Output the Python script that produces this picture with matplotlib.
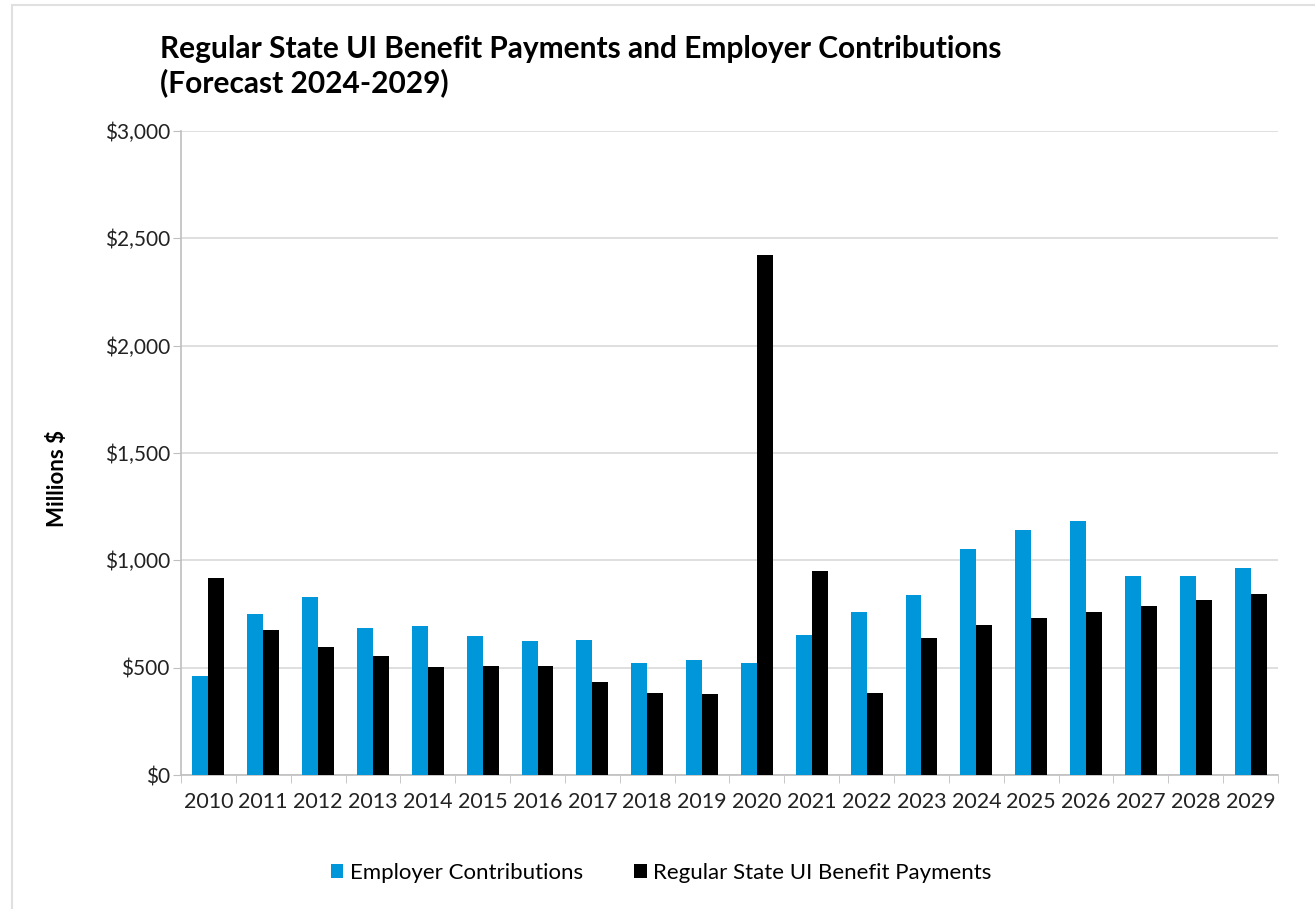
import matplotlib.pyplot as plt
import matplotlib.patches as patches
import numpy as np
from matplotlib.ticker import FuncFormatter, MultipleLocator

plt.rcParams['font.family'] = ['Lato', 'DejaVu Sans']

# data (millions $)
years = [str(y) for y in range(2010, 2030)]
employer = [460, 750, 830, 687, 694, 648, 625, 631, 523, 535,
            520, 650, 761, 839, 1054, 1139, 1182, 927, 927, 963]
benefits = [917, 677, 598, 554, 501, 506, 509, 432, 381, 376,
            2420, 952, 381, 637, 699, 732, 759, 789, 816, 843]

blue = '#0097DA'
black = '#000000'
grid_c = '#D9D9D9'

fig = plt.figure(figsize=(13.15, 9.09), dpi=100)
ax = fig.add_axes([0.1376, 0.1474, 0.8343, 0.7085])

x = np.arange(len(years))
w = 0.29
ax.bar(x - w / 2, employer, w, color=blue, label='Employer Contributions', zorder=3)
ax.bar(x + w / 2, benefits, w, color=black, label='Regular State UI Benefit Payments', zorder=3)

ax.set_xlim(-0.5, len(years) - 0.5)
ax.set_ylim(0, 3000)
ax.yaxis.set_major_locator(MultipleLocator(500))
ax.yaxis.set_major_formatter(FuncFormatter(lambda v, p: '${:,.0f}'.format(v)))
ax.grid(axis='y', color=grid_c, linewidth=1.2, zorder=0)

ax.set_xticks(x)
ax.set_xticklabels(years)
ax.set_xticks(np.arange(-0.5, len(years)), minor=True)
ax.tick_params(axis='x', which='major', length=0, pad=12, labelsize=15.5, colors='#222222')
ax.tick_params(axis='x', which='minor', length=6, color='#BFBFBF')
ax.tick_params(axis='y', length=6, color='#BFBFBF', labelsize=15, labelcolor='#222222', pad=2)

for s in ['top', 'right']:
    ax.spines[s].set_visible(False)
for s in ['left', 'bottom']:
    ax.spines[s].set_color('#BFBFBF')
    ax.spines[s].set_linewidth(1.2)

ax.set_ylabel('Millions $', fontsize=16, fontweight='bold')
ax.yaxis.set_label_coords(-0.103, 0.46)

fig.text(160 / 1315, 1 - 66 / 909, 'Regular State UI Benefit Payments and Employer Contributions\n(Forecast 2024-2029)',
         fontsize=21.5, fontweight='bold', va='center', ha='left', linespacing=1.25)

fig.legend(loc='center', bbox_to_anchor=(0.503, 1 - 873 / 909), ncol=2, frameon=False, fontsize=16,
           handlelength=0.55, handleheight=0.55, columnspacing=2.3, handletextpad=0.3)

# light frame around the figure
fig.patches.append(patches.Rectangle((12 / 1315, -0.01), 1.1, 1 - 5 / 909 + 0.01,
                                     transform=fig.transFigure, fill=False,
                                     edgecolor='#E0E0E0', linewidth=1.5, zorder=-1))

fig.savefig('out.png', dpi=100)
